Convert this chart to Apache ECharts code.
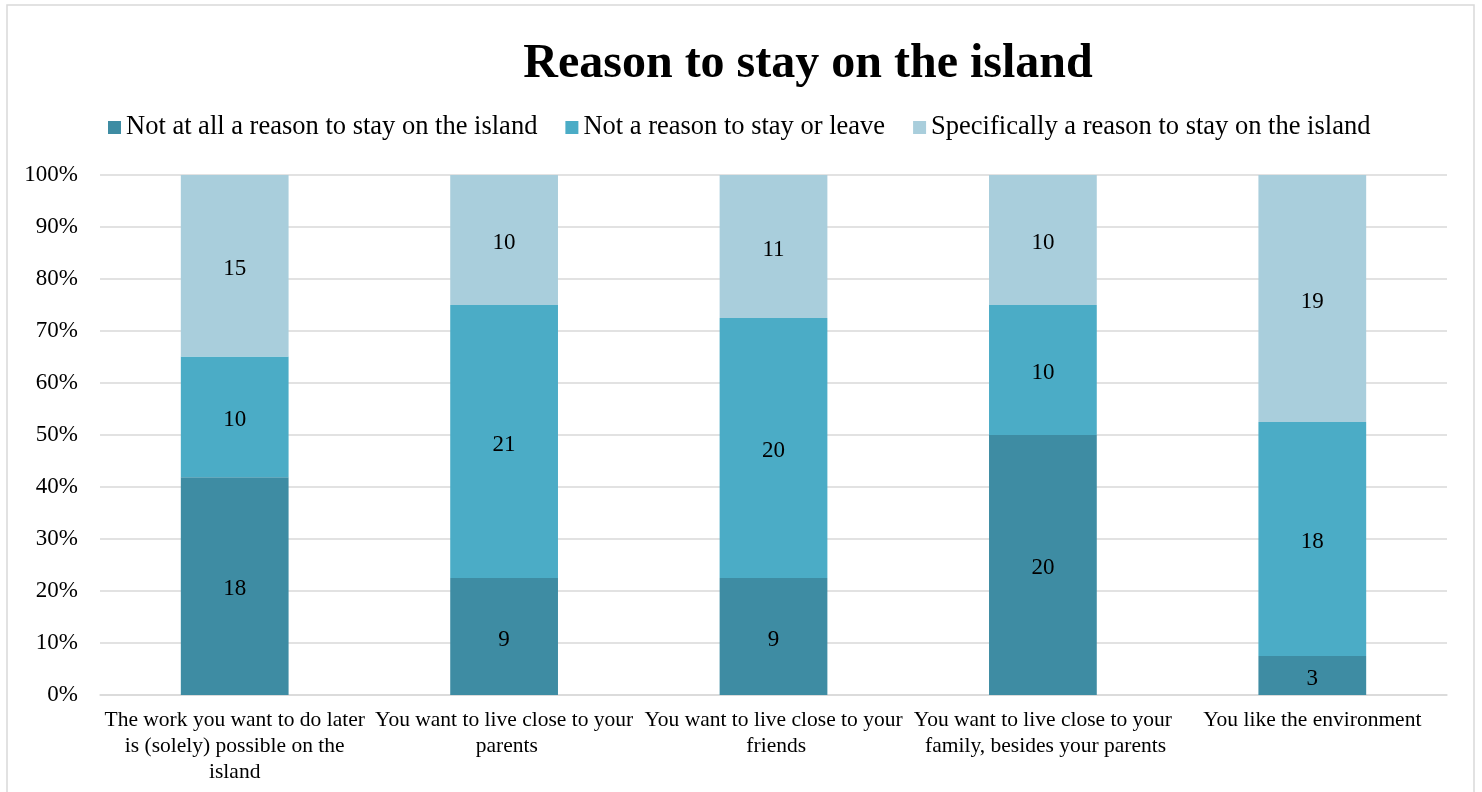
<!DOCTYPE html>
<html>
<head>
<meta charset="utf-8">
<script src="https://cdn.jsdelivr.net/npm/echarts@6/dist/echarts.min.js"></script>
<style>
html,body{margin:0;padding:0;background:#fff;}
#chart{width:1482px;height:792px;}
</style>
</head>
<body>
<div id="chart"></div>
<script>
const categories = [
  'The work you want to do later is (solely) possible on the island',
  'You want to live close to your parents',
  'You want to live close to your friends',
  'You want to live close to your family, besides your parents',
  'You like the environment'
];
const seriesNames = [
  'Not at all a reason to stay on the island',
  'Not a reason to stay or leave',
  'Specifically a reason to stay on the island'
];
const notAtAll = [18, 9, 9, 20, 3];
const neutral = [10, 21, 20, 10, 18];
const specifically = [15, 10, 11, 10, 19];
const yTicks = [0, 10, 20, 30, 40, 50, 60, 70, 80, 90, 100];

const colors = ['#3E8CA3', '#4BACC6', '#A9CEDC'];
const counts = [notAtAll, neutral, specifically];
const totals = categories.map((c, i) => counts.reduce((s, arr) => s + arr[i], 0));

const font = '"Liberation Serif", "Times New Roman", serif';

const chart = echarts.init(document.getElementById('chart'));
chart.setOption({
  backgroundColor: '#fff',
  animation: false,
  graphic: [{
    type: 'rect',
    shape: {x: 7, y: 5, width: 1467, height: 800},
    style: {fill: 'none', stroke: '#d9d9d9', lineWidth: 1.5},
    silent: true
  }],
  title: {
    text: 'Reason to stay on the island',
    left: 803, top: 36, textAlign: 'center',
    textStyle: {fontFamily: font, fontWeight: 'bold', fontSize: 48, color: '#000'}
  },
  legend: {
    top: 109, left: 103,
    itemWidth: 13, itemHeight: 13, itemGap: 28,
    icon: 'rect',
    textStyle: {fontFamily: font, fontSize: 26.5, color: '#000'},
    data: seriesNames
  },
  grid: {left: 100, right: 35, top: 175, bottom: 97, containLabel: false},
  xAxis: {
    type: 'category',
    data: categories,
    axisLine: {lineStyle: {color: '#d9d9d9', width: 1.5}},
    axisTick: {show: false},
    axisLabel: {
      interval: 0, margin: 12,
      fontFamily: font, fontSize: 21.5, color: '#000', lineHeight: 26,
      width: 264, overflow: 'break'
    }
  },
  yAxis: {
    type: 'value', min: 0, max: 100, interval: 10,
    axisLine: {show: false}, axisTick: {show: false},
    splitLine: {lineStyle: {color: '#d9d9d9', width: 1.5}},
    axisLabel: {
      margin: 22, fontFamily: font, fontSize: 23, color: '#000',
      formatter: v => yTicks.includes(v) ? v + '%' : ''
    }
  },
  series: seriesNames.map((name, si) => ({
    name: name,
    type: 'bar',
    stack: 'total',
    barWidth: '40%',
    itemStyle: {color: colors[si]},
    label: {
      show: true, position: 'inside', offset: [0, 3],
      fontFamily: font, fontSize: 23, color: '#000',
      formatter: p => String(counts[si][p.dataIndex])
    },
    data: counts[si].map((v, i) => v / totals[i] * 100)
  }))
});
</script>
</body>
</html>
